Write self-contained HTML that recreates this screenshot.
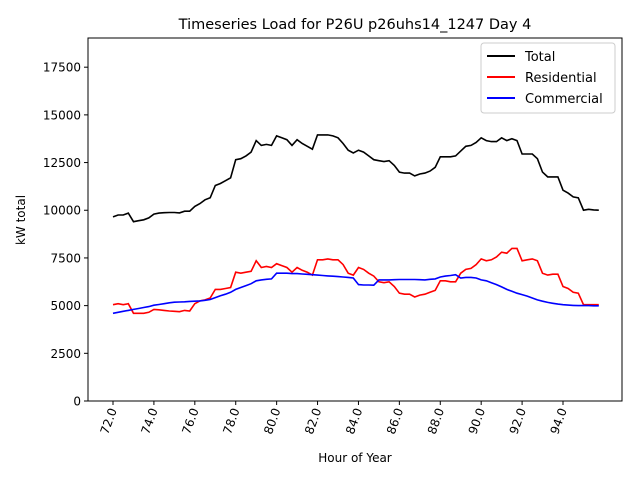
<!DOCTYPE html>
<html><head><meta charset="utf-8"><style>
body{margin:0;background:#fff;}
svg{display:block;font-family:"DejaVu Sans","Liberation Sans",sans-serif;}
</style></head><body>
<svg id="chart" width="640" height="480" viewBox="0 0 640 480" xmlns="http://www.w3.org/2000/svg">
<rect width="640" height="480" fill="#fff"/>
<text x="355" y="29" font-size="14.5" text-anchor="middle">Timeseries Load for P26U p26uhs14_1247  Day 4</text>
<text x="355" y="462" font-size="12" text-anchor="middle">Hour of Year</text>
<text transform="translate(25,220) rotate(-90)" font-size="12" text-anchor="middle">kW total</text>
<g id="ticks"></g>
<g id="series"></g>
<rect x="88" y="38" width="534" height="363" fill="none" stroke="#000" stroke-width="1"/>
<g>
<rect x="481" y="43" width="134" height="70" rx="3" fill="#fff" fill-opacity="0.8" stroke="#ccc"/>
<line x1="487" y1="56" x2="515" y2="56" stroke="#000" stroke-width="2"/>
<text x="525" y="61" font-size="13">Total</text>
<line x1="487" y1="77" x2="515" y2="77" stroke="#f00" stroke-width="2"/>
<text x="525" y="82" font-size="13">Residential</text>
<line x1="487" y1="98" x2="515" y2="98" stroke="#00f" stroke-width="2"/>
<text x="525" y="103" font-size="13">Commercial</text>
</g>
</svg>
<script>
const xTicks=[72,74,76,78,80,82,84,86,88,90,92,94];
const yTicks=[0,2500,5000,7500,10000,12500,15000,17500];
const totalVals=[9650,9750,9750,9850,9400,9450,9500,9600,9800,9850,9870,9880,9880,9860,9950,9950,10200,10350,10550,10650,11300,11400,11550,11700,12650,12700,12850,13050,13650,13400,13450,13400,13900,13800,13700,13400,13700,13500,13350,13200,13950,13950,13950,13900,13800,13500,13150,13000,13150,13050,12850,12650,12600,12550,12600,12350,12000,11950,11950,11800,11900,11950,12050,12250,12800,12800,12800,12850,13100,13350,13400,13550,13800,13650,13600,13600,13800,13650,13750,13650,12950,12950,12950,12700,12000,11750,11750,11750,11050,10900,10700,10650,10000,10050,10020,10000];
const residentialVals=[5050,5100,5050,5100,4600,4600,4600,4650,4800,4780,4750,4720,4700,4680,4750,4720,5100,5250,5300,5400,5850,5850,5900,5950,6750,6700,6750,6800,7350,7000,7050,7000,7200,7100,7000,6750,7000,6850,6750,6600,7400,7400,7450,7400,7400,7150,6700,6600,7000,6900,6700,6550,6250,6200,6250,6000,5650,5600,5600,5450,5550,5600,5700,5800,6300,6300,6250,6250,6700,6900,6950,7150,7450,7350,7400,7550,7800,7750,8000,8000,7350,7400,7450,7350,6700,6600,6650,6650,6000,5900,5700,5650,5050,5050,5050,5050];
const commercialVals=[4600,4650,4700,4750,4800,4850,4900,4950,5020,5060,5100,5150,5180,5190,5200,5220,5230,5250,5280,5320,5420,5520,5600,5700,5850,5950,6050,6150,6300,6350,6380,6400,6700,6700,6700,6680,6680,6660,6640,6620,6600,6580,6560,6540,6520,6500,6480,6450,6100,6080,6080,6070,6350,6350,6350,6360,6370,6370,6370,6370,6360,6350,6380,6400,6500,6550,6580,6620,6450,6480,6480,6450,6350,6300,6200,6100,5980,5850,5750,5650,5580,5500,5400,5300,5230,5170,5120,5080,5050,5030,5010,5000,5000,5000,4990,4990];
const startHour=72, step=0.25;
const NS="http://www.w3.org/2000/svg";
function xs(h){return 113+(h-72)*(450/22);}
function ys(v){return 401-v*(363/19030);}
const tg=document.getElementById('ticks');
xTicks.forEach(t=>{
  const x=xs(t);
  const l=document.createElementNS(NS,'line');
  
  
  l.setAttribute('x1',x);l.setAttribute('x2',x);l.setAttribute('y1',401);l.setAttribute('y2',405);l.setAttribute('stroke','#000');
  tg.appendChild(l);
  const tx=document.createElementNS(NS,'text');
  
  
  tx.setAttribute('transform','translate('+(x+4)+',410) rotate(-70)');
  tx.setAttribute('text-anchor','end');tx.setAttribute('font-size','12');
  tx.textContent=t.toFixed(1);
  tg.appendChild(tx);
});
yTicks.forEach(t=>{
  const y=ys(t);
  const l=document.createElementNS(NS,'line');
  
  
  l.setAttribute('x1',84);l.setAttribute('x2',88);l.setAttribute('y1',y);l.setAttribute('y2',y);l.setAttribute('stroke','#000');
  tg.appendChild(l);
  const tx=document.createElementNS(NS,'text');
  
  
  tx.setAttribute('x',81);tx.setAttribute('y',y+4.5);
  tx.setAttribute('text-anchor','end');tx.setAttribute('font-size','12');
  tx.textContent=t;
  tg.appendChild(tx);
});
const sg=document.getElementById('series');
function draw(vals,color,name){
  const p=document.createElementNS(NS,'polyline');
  
  
  p.setAttribute('points',vals.map((v,i)=>xs(startHour+i*step).toFixed(1)+','+ys(v).toFixed(1)).join(' '));
  p.setAttribute('fill','none');p.setAttribute('stroke',color);p.setAttribute('stroke-width','1.6');
  sg.appendChild(p);
}
draw(totalVals,'#000','total-line');
draw(residentialVals,'#f00','residential-line');
draw(commercialVals,'#00f','commercial-line');
</script>
</body></html>
